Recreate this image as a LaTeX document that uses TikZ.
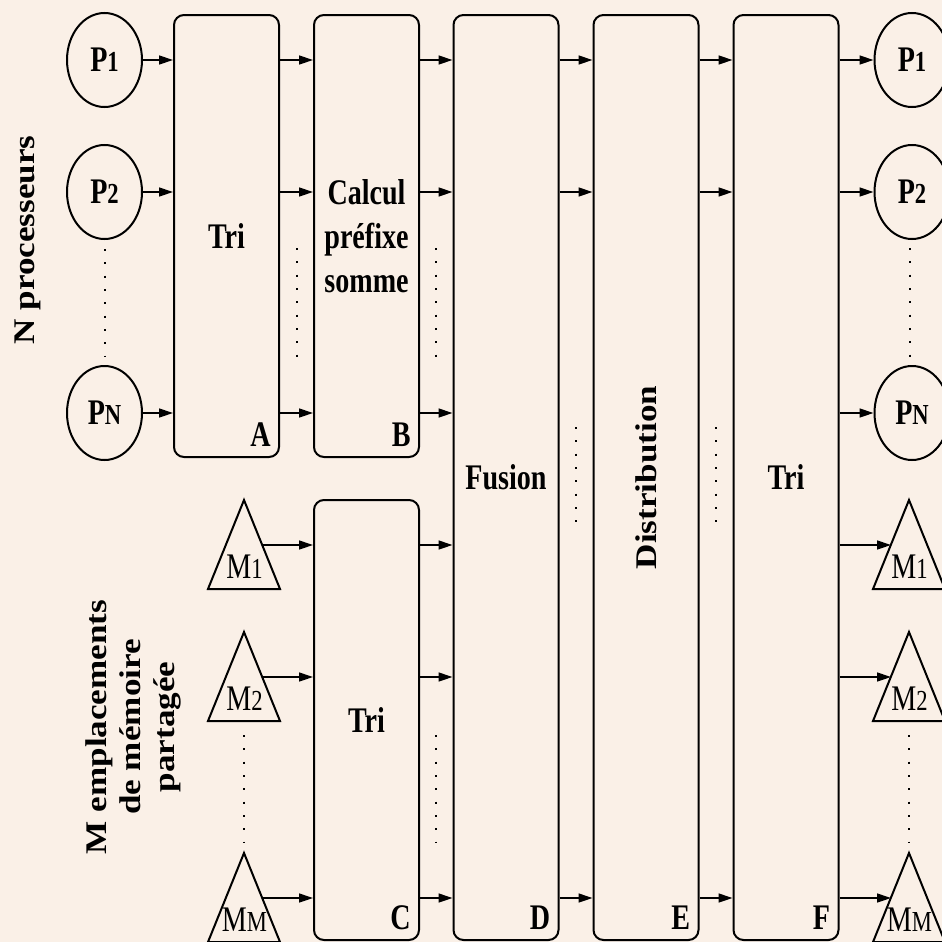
\documentclass[tikz,border=0pt]{standalone}
\usepackage{fontspec}
\setmainfont{Liberation Serif}
\newfontfamily\narrowfont[FakeStretch=0.78]{Liberation Serif}
\newfontfamily\widefont[FakeStretch=1.17]{Liberation Serif}
\usepackage{tikz}
\usetikzlibrary{arrows.meta,shapes.geometric}
\definecolor{paper}{RGB}{250,240,231}
\newcommand{\idx}[1]{{\fontsize{14.5}{14.5}\selectfont #1}}

\begin{document}
\begin{tikzpicture}[x=0.5pt, y=-0.5pt,
    stage node/.style={draw, line width=1pt, rounded corners=5pt, minimum width=52.5pt, inner sep=0pt, align=center, font=\narrowfont\bfseries\fontsize{18}{22}\selectfont},
    proc node/.style={draw, ellipse, line width=1pt, minimum width=37.5pt, minimum height=47pt, inner sep=0pt, font=\narrowfont\bfseries\fontsize{18}{20}\selectfont},
    mem node/.style={inner sep=0pt, font=\narrowfont\fontsize{18}{20}\selectfont},
    tag node/.style={anchor=base east, inner sep=0pt, font=\narrowfont\bfseries\fontsize{18}{20}\selectfont},
    side node/.style={rotate=90, align=center, inner sep=0pt, font=\widefont\bfseries\fontsize{15}{17}\selectfont},
    flow/.style={-{Triangle[length=7pt,width=4.5pt]}, line width=0.7pt},
    dotted gap/.style={line width=1pt, dash pattern=on 1pt off 5.67pt}]
            \fill[paper] (0,0) rectangle (942,942);
            \useasboundingbox (0,0) rectangle (942,942);

            \node[side node] (procs) at (28,240) {N processeurs};
            \node[side node] (cells) at (133,727) {M emplacements\\de mémoire\\partagée};

            % the six stages
            \node[stage node, minimum height=221pt] (A) at (226.5,236) {Tri};
            \node[stage node, minimum height=221pt] (B) at (366.5,236) {Calcul\\préfixe\\somme};
            \node[stage node, minimum height=220pt] (C) at (366.5,720) {Tri};
            \node[stage node, minimum height=462.5pt] (D) at (506,477.5) {Fusion};
            \node[stage node, minimum height=462.5pt] (E) at (646,477.5) {};
            \node[stage node, minimum height=462.5pt] (F) at (786,477.5) {Tri};
            \node[side node] (dist) at (E) {Distribution};

            \node[tag node] (a) at ([xshift=-4.5pt,yshift=6pt]A.south east) {A};
            \node[tag node] (b) at ([xshift=-4.5pt,yshift=6pt]B.south east) {B};
            \node[tag node] (c) at ([xshift=-4.5pt,yshift=6pt]C.south east) {C};
            \node[tag node] (d) at ([xshift=-4.5pt,yshift=6pt]D.south east) {D};
            \node[tag node] (e) at ([xshift=-4.5pt,yshift=6pt]E.south east) {E};
            \node[tag node] (f) at ([xshift=-4.5pt,yshift=6pt]F.south east) {F};

            % processors, in and out
            \node[proc node] (p1) at (104.5,60) {P\idx{1}};
            \node[proc node] (p2) at (104.5,192) {P\idx{2}};
            \node[proc node] (pN) at (104.5,413) {P\idx{N}};
            \node[proc node] (q1) at (912,60) {P\idx{1}};
            \node[proc node] (q2) at (912,192) {P\idx{2}};
            \node[proc node] (qN) at (912,413) {P\idx{N}};

            % memory cells, in and out
            \draw[line width=1pt] (208,589) -- (244,500) -- (280,589) -- cycle;
            \draw[line width=1pt] (208,721) -- (244,632) -- (280,721) -- cycle;
            \draw[line width=1pt] (208,942) -- (244,853) -- (280,942) -- cycle;
            \draw[line width=1pt] (873,589) -- (909,500) -- (945,589) -- cycle;
            \draw[line width=1pt] (873,721) -- (909,632) -- (945,721) -- cycle;
            \draw[line width=1pt] (873,942) -- (909,853) -- (945,942) -- cycle;
            \node[mem node] (m1) at (244.5,566.5) {M\idx{1}};
            \node[mem node] (m2) at (244.5,698.5) {M\idx{2}};
            \node[mem node] (mM) at (244.5,919.5) {M\idx{M}};
            \node[mem node] (n1) at (909.5,566.5) {M\idx{1}};
            \node[mem node] (n2) at (909.5,698.5) {M\idx{2}};
            \node[mem node] (nM) at (909.5,919.5) {M\idx{M}};
            \coordinate (m1o) at (262,545);
            \coordinate (m2o) at (262,677);
            \coordinate (mMo) at (262,898);
            \coordinate (n1i) at (891,545);
            \coordinate (n2i) at (891,677);
            \coordinate (nMi) at (891,898);

            \path[flow]
                (p1) edge (p1 -| A.west)
                (p2) edge (p2 -| A.west)
                (pN) edge (pN -| A.west)
                (p1 -| A.east) edge (p1 -| B.west)
                (p2 -| A.east) edge (p2 -| B.west)
                (pN -| A.east) edge (pN -| B.west)
                (p1 -| B.east) edge (p1 -| D.west)
                (p2 -| B.east) edge (p2 -| D.west)
                (pN -| B.east) edge (pN -| D.west)
                (m1o) edge (m1o -| C.west)
                (m2o) edge (m2o -| C.west)
                (mMo) edge (mMo -| C.west)
                (m1o -| C.east) edge (m1o -| D.west)
                (m2o -| C.east) edge (m2o -| D.west)
                (mMo -| C.east) edge (mMo -| D.west)
                (p1 -| D.east) edge (p1 -| E.west)
                (p2 -| D.east) edge (p2 -| E.west)
                (mMo -| D.east) edge (mMo -| E.west)
                (p1 -| E.east) edge (p1 -| F.west)
                (p2 -| E.east) edge (p2 -| F.west)
                (mMo -| E.east) edge (mMo -| F.west)
                (q1 -| F.east) edge (q1)
                (q2 -| F.east) edge (q2)
                (qN -| F.east) edge (qN)
                (n1i -| F.east) edge (n1i)
                (n2i -| F.east) edge (n2i)
                (nMi -| F.east) edge (nMi);

            \draw[dotted gap] ([yshift=-4.5pt]p2.south) -- ([yshift=4.5pt]pN.north);
            \draw[dotted gap] (296.5,248) -- (296.5,357);
            \draw[dotted gap] (436,248) -- (436,357);
            \draw[dotted gap] (910,248) -- (910,357);
            \draw[dotted gap] (576,427) -- (576,533);
            \draw[dotted gap] (716,427) -- (716,533);
            \draw[dotted gap] (244,735) -- (244,842);
            \draw[dotted gap] (436,735) -- (436,842);
            \draw[dotted gap] (909,735) -- (909,842);
        \end{tikzpicture}
\end{document}
